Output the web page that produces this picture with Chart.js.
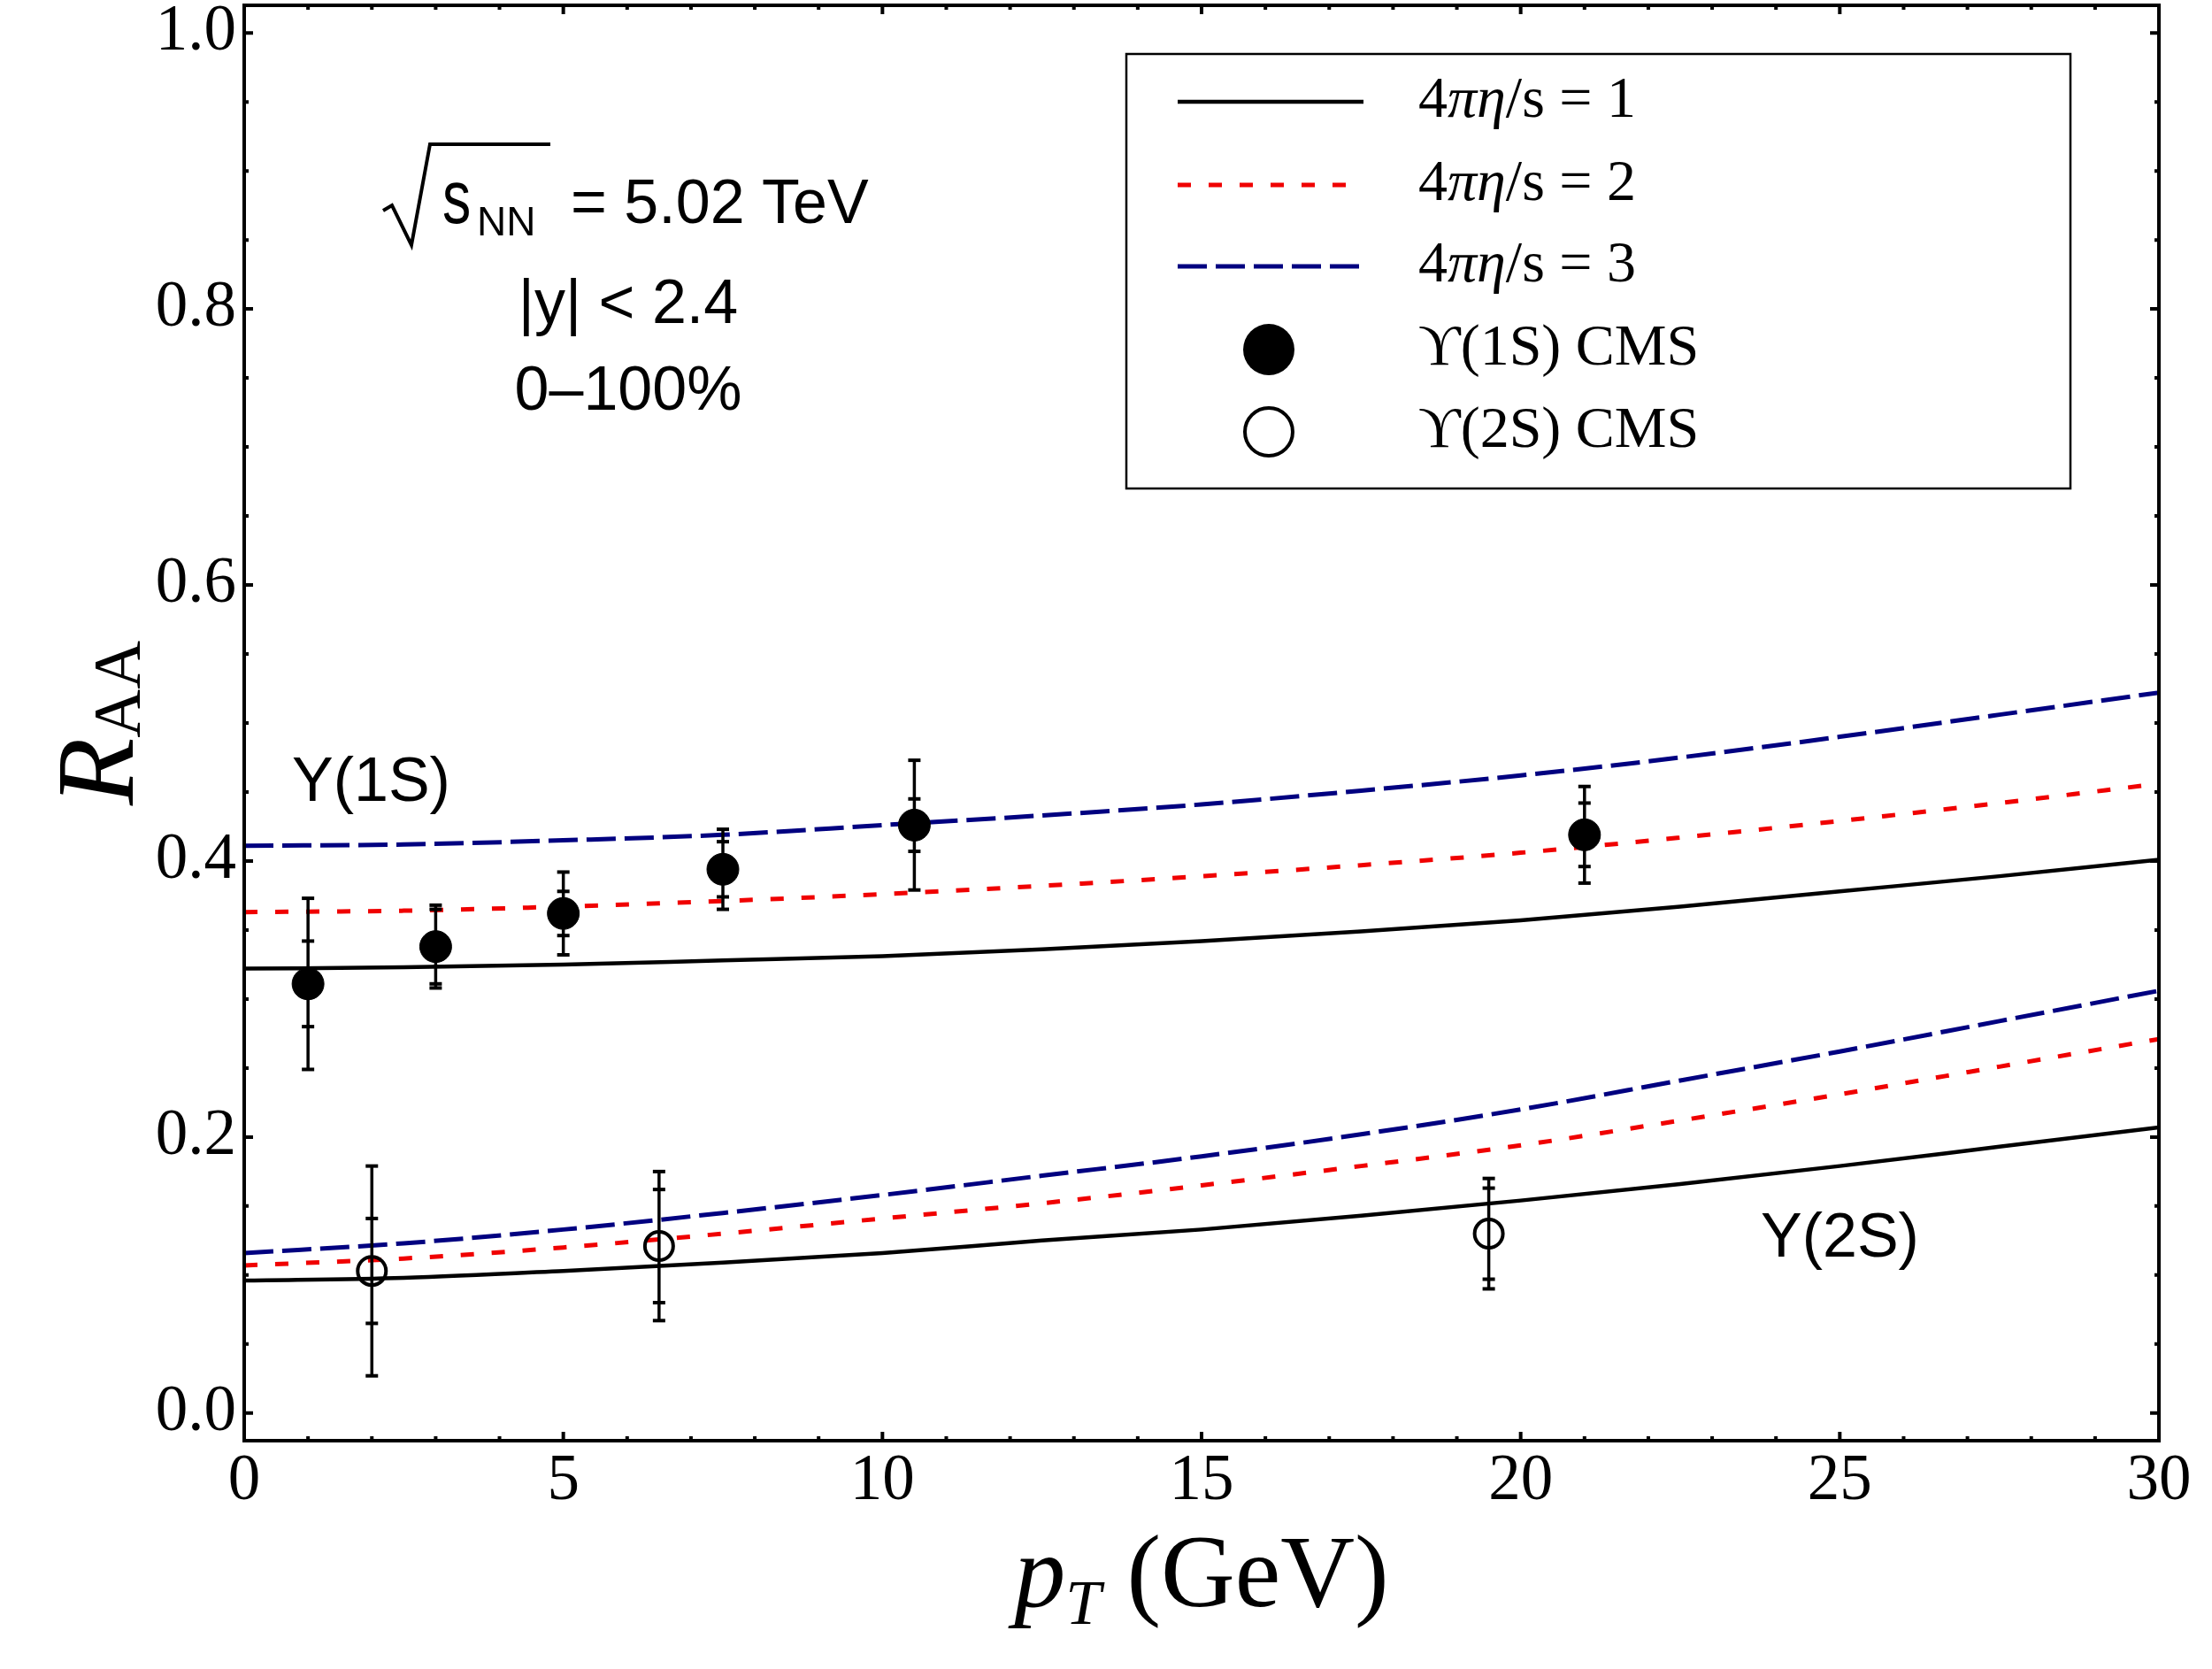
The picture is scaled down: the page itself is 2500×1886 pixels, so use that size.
<!DOCTYPE html>
<html>
<head>
<meta charset="utf-8">
<script src="https://cdn.jsdelivr.net/npm/chart.js@4.4.1/dist/chart.umd.min.js"></script>
<style>
html,body{margin:0;padding:0;background:#fff;}
canvas{display:block;}
</style>
</head>
<body>
<canvas id="c" width="2500" height="1886"></canvas>
<script>
// ---------------- data ----------------
const ptGrid = [0, 2.5, 5, 7.5, 10, 12.5, 15, 17.5, 20, 22.5, 25, 27.5, 30];

const ups1S_eta1 = [0.322, 0.323, 0.325, 0.328, 0.331, 0.336, 0.342, 0.349, 0.357, 0.367, 0.378, 0.389, 0.401];
const ups1S_eta2 = [0.363, 0.364, 0.367, 0.371, 0.376, 0.382, 0.389, 0.397, 0.406, 0.417, 0.429, 0.442, 0.456];
const ups1S_eta3 = [0.411, 0.412, 0.415, 0.419, 0.426, 0.433, 0.441, 0.451, 0.462, 0.475, 0.490, 0.506, 0.522];

const ups2S_eta1 = [0.096, 0.098, 0.103, 0.109, 0.116, 0.125, 0.133, 0.143, 0.154, 0.166, 0.179, 0.193, 0.207];
const ups2S_eta2 = [0.107, 0.112, 0.120, 0.130, 0.141, 0.152, 0.165, 0.179, 0.194, 0.212, 0.231, 0.251, 0.271];
const ups2S_eta3 = [0.116, 0.123, 0.133, 0.145, 0.158, 0.172, 0.186, 0.202, 0.220, 0.241, 0.262, 0.284, 0.306];

const cms1S_pt = [1, 3, 5, 7.5, 10.5, 21];
const cms1S_raa = [0.311, 0.338, 0.362, 0.394, 0.426, 0.419];
const cms1S_errInner = [0.031, 0.027, 0.016, 0.020, 0.019, 0.023];
const cms1S_errOuter = [0.062, 0.030, 0.030, 0.029, 0.047, 0.035];

const cms2S_pt = [2, 6.5, 19.5];
const cms2S_raa = [0.103, 0.121, 0.130];
const cms2S_errInner = [0.038, 0.041, 0.033];
const cms2S_errOuter = [0.076, 0.054, 0.040];

const xTickValues = [0, 5, 10, 15, 20, 25, 30];
const yTickValues = [0.0, 0.2, 0.4, 0.6, 0.8, 1.0];

const legendLabels = ['4πη/s = 1', '4πη/s = 2', '4πη/s = 3', 'ϒ(1S) CMS', 'ϒ(2S) CMS'];

// ---------------- styles ----------------
const RED = '#f00000';
const BLUE = '#000080';
const styleEta = [
  {color: '#000', width: 4.5, dash: []},
  {color: RED, width: 5, dash: [15, 20]},
  {color: BLUE, width: 5, dash: [33, 10]}
];

function toXY(xs, ys) { return xs.map((x, i) => ({x: x, y: ys[i]})); }

function curve(label, data, st) {
  return {
    type: 'line', label: label, data: toXY(ptGrid, data),
    borderColor: st.color, borderWidth: st.width, borderDash: st.dash,
    pointRadius: 0, fill: false, cubicInterpolationMode: 'monotone', order: 2
  };
}

const datasets = [
  {type: 'scatter', label: legendLabels[3], data: toXY(cms1S_pt, cms1S_raa),
   pointRadius: 18, pointBackgroundColor: '#000', pointBorderColor: '#000', pointBorderWidth: 1, order: 0},
  {type: 'scatter', label: legendLabels[4], data: toXY(cms2S_pt, cms2S_raa),
   pointRadius: 16, pointBackgroundColor: 'rgba(0,0,0,0)', pointBorderColor: '#000', pointBorderWidth: 4, order: 0},
  curve(legendLabels[0], ups1S_eta1, styleEta[0]),
  curve(legendLabels[1], ups1S_eta2, styleEta[1]),
  curve(legendLabels[2], ups1S_eta3, styleEta[2]),
  curve(legendLabels[0], ups2S_eta1, styleEta[0]),
  curve(legendLabels[1], ups2S_eta2, styleEta[1]),
  curve(legendLabels[2], ups2S_eta3, styleEta[2])
];

const SERIF = '"Liberation Serif", "Times New Roman", serif';
const SANS = '"Liberation Sans", Arial, sans-serif';

// ---------------- plugins ----------------
const errorBars = {
  id: 'errorBars',
  afterDatasetsDraw(chart) {
    const {ctx, scales: {x, y}} = chart;
    ctx.save();
    ctx.strokeStyle = '#000';
    const sets = [
      [cms1S_pt, cms1S_raa, cms1S_errInner, cms1S_errOuter],
      [cms2S_pt, cms2S_raa, cms2S_errInner, cms2S_errOuter]
    ];
    const cap = 7;
    sets.forEach(([xs, ys, ei, eo]) => {
      xs.forEach((xv, i) => {
        const px = x.getPixelForValue(xv);
        const top = y.getPixelForValue(ys[i] + eo[i]);
        const bot = y.getPixelForValue(ys[i] - eo[i]);
        const itop = y.getPixelForValue(ys[i] + ei[i]);
        const ibot = y.getPixelForValue(ys[i] - ei[i]);
        ctx.lineWidth = 3.5;
        ctx.beginPath(); ctx.moveTo(px, top); ctx.lineTo(px, bot); ctx.stroke();
        ctx.lineWidth = 4;
        [top, bot, itop, ibot].forEach(py => {
          ctx.beginPath(); ctx.moveTo(px - cap, py); ctx.lineTo(px + cap, py); ctx.stroke();
        });
      });
    });
    ctx.restore();
  }
};

function drawMixed(ctx, parts, x, baseline) {
  let cx = x;
  parts.forEach(p => {
    ctx.font = p[1];
    ctx.fillText(p[0], cx, baseline + (p[2] || 0));
    cx += ctx.measureText(p[0]).width;
  });
  return cx;
}
function mixedWidth(ctx, parts) {
  let w = 0;
  parts.forEach(p => { ctx.font = p[1]; w += ctx.measureText(p[0]).width; });
  return w;
}

const decor = {
  id: 'decor',
  afterDraw(chart) {
    const {ctx, chartArea: a, scales: {x, y}} = chart;
    ctx.save();
    // frame
    ctx.strokeStyle = '#000';
    ctx.lineWidth = 4;
    ctx.strokeRect(a.left, a.top, a.right - a.left, a.bottom - a.top);
    // ticks (inward, mirrored)
    ctx.lineWidth = 4;
    for (let k = 0; k <= 20; k++) {
      const v = k * 0.05;
      const py = y.getPixelForValue(v);
      const len = (k % 4 === 0) ? 10 : 5;
      ctx.beginPath();
      ctx.moveTo(a.left, py); ctx.lineTo(a.left + len, py);
      ctx.moveTo(a.right, py); ctx.lineTo(a.right - len, py);
      ctx.stroke();
    }
    for (let k = 0; k <= 30; k++) {
      const px = x.getPixelForValue(k);
      const len = (k % 5 === 0) ? 10 : 5;
      ctx.beginPath();
      ctx.moveTo(px, a.bottom); ctx.lineTo(px, a.bottom - len);
      ctx.moveTo(px, a.top); ctx.lineTo(px, a.top + len);
      ctx.stroke();
    }

    // legend box
    ctx.fillStyle = '#fff';
    ctx.fillRect(1273, 61, 1067, 491);
    ctx.lineWidth = 2.5;
    ctx.strokeRect(1273, 61, 1067, 491);
    const rows = [115, 209, 301, 395, 488];
    ctx.fillStyle = '#000';
    ctx.textBaseline = 'middle';
    ctx.textAlign = 'left';
    for (let i = 0; i < 3; i++) {
      const st = styleEta[i];
      ctx.strokeStyle = st.color; ctx.lineWidth = st.width; ctx.setLineDash(st.dash);
      ctx.beginPath(); ctx.moveTo(1331, rows[i]); ctx.lineTo(1541, rows[i]); ctx.stroke();
      ctx.setLineDash([]);
      const lab = legendLabels[i];
      drawMixed(ctx, [
        [lab.slice(0, 1), '66px ' + SERIF, 0],
        [lab.slice(1, 3), 'italic 66px ' + SERIF, 0],
        [lab.slice(3), '66px ' + SERIF, 0]
      ], 1603, rows[i]);
    }
    ctx.strokeStyle = '#000';
    ctx.beginPath(); ctx.arc(1434, rows[3], 29, 0, Math.PI * 2); ctx.fill();
    ctx.lineWidth = 4;
    ctx.beginPath(); ctx.arc(1434, rows[4], 27, 0, Math.PI * 2); ctx.stroke();
    ctx.font = '66px ' + SERIF;
    ctx.fillText(legendLabels[3], 1603, rows[3]);
    ctx.fillText(legendLabels[4], 1603, rows[4]);

    // annotations
    ctx.textBaseline = 'alphabetic';
    ctx.font = '70px ' + SANS;
    ctx.textAlign = 'left';
    ctx.fillText('Y(1S)', 330, 905);
    ctx.fillText('Y(2S)', 1990, 1420);
    ctx.textAlign = 'center';
    ctx.fillText('|y| < 2.4', 710, 365);
    ctx.fillText('0\u2013100%', 710, 463);
    ctx.textAlign = 'left';
    // sqrt(s_NN)
    ctx.lineWidth = 4;
    ctx.lineJoin = 'miter';
    ctx.beginPath();
    ctx.moveTo(433, 238); ctx.lineTo(443, 232); ctx.lineTo(465, 277);
    ctx.lineTo(486, 163); ctx.lineTo(622, 163);
    ctx.stroke();
    ctx.save();
    ctx.translate(500, 252);
    ctx.scale(0.75, 1);
    ctx.font = '86px ' + SANS;
    ctx.fillText('s', 0, 0);
    ctx.restore();
    ctx.font = '46px ' + SANS;
    ctx.fillText('NN', 539, 266);
    ctx.font = '70px ' + SANS;
    ctx.fillText('= 5.02 TeV', 645, 252);

    // x title
    const xt = [
      ['p', 'italic 116px ' + SERIF, 0],
      ['T', 'italic 72px ' + SERIF, 20],
      [' (GeV)', '116px ' + SERIF, 0]
    ];
    const xw = mixedWidth(ctx, xt);
    drawMixed(ctx, xt, (a.left + a.right) / 2 - xw / 2, 1815);

    // y title
    ctx.save();
    ctx.translate(150, (a.top + a.bottom) / 2);
    ctx.rotate(-Math.PI / 2);
    const yt = [
      ['R', 'italic 125px ' + SERIF, 0],
      ['AA', '76px ' + SERIF, 8]
    ];
    const yw = mixedWidth(ctx, yt);
    drawMixed(ctx, yt, -yw / 2, 0);
    ctx.restore();

    ctx.restore();
  }
};

// ---------------- chart ----------------
new Chart(document.getElementById('c'), {
  type: 'scatter',
  data: {datasets: datasets},
  options: {
    responsive: false,
    devicePixelRatio: 1,
    animation: false,
    layout: {autoPadding: false, padding: {top: 6, right: 60, left: 0, bottom: 0}},
    plugins: {legend: {display: false}, tooltip: {enabled: false}},
    scales: {
      x: {
        type: 'linear', min: 0, max: 30,
        grid: {display: false, drawTicks: false},
        border: {display: false},
        afterBuildTicks: s => { s.ticks = xTickValues.map(v => ({value: v})); },
        afterFit: s => { s.height = 1886 - 1628; s.paddingLeft = 0; s.paddingRight = 0; },
        ticks: {
          color: '#000', padding: 3, maxRotation: 0,
          font: {family: SERIF, size: 73},
          callback: v => String(v)
        }
      },
      y: {
        type: 'linear', min: -0.02, max: 1.02,
        grid: {display: false, drawTicks: false},
        border: {display: false},
        afterBuildTicks: s => { s.ticks = yTickValues.map(v => ({value: v})); },
        afterFit: s => { s.width = 276; s.paddingTop = 0; s.paddingBottom = 0; },
        ticks: {
          color: '#000', padding: 9,
          font: {family: SERIF, size: 73},
          callback: v => Number(v).toFixed(1)
        }
      }
    }
  },
  plugins: [errorBars, decor]
});
</script>
</body>
</html>
